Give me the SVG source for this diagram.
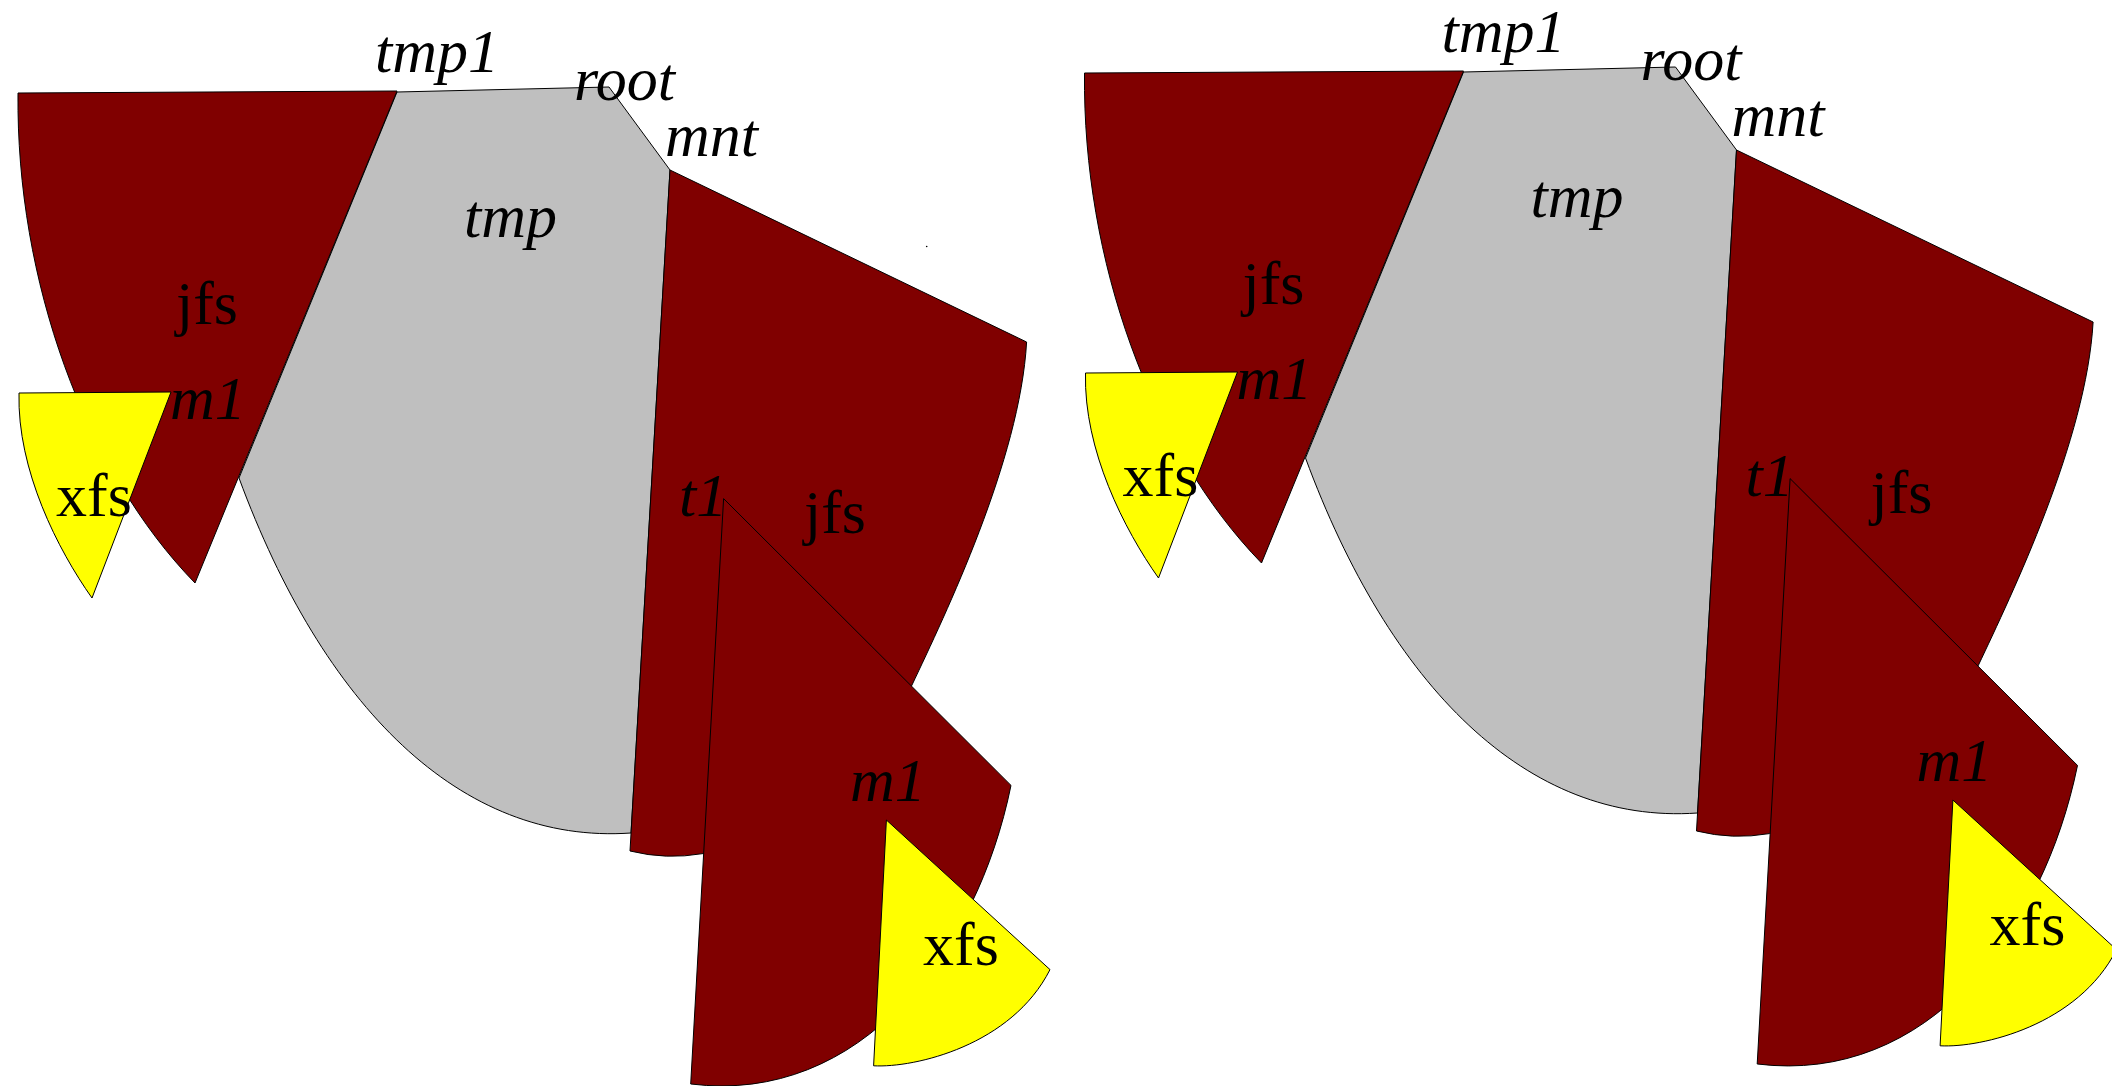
<svg xmlns="http://www.w3.org/2000/svg" width="2112" height="1086" viewBox="0 0 2112 1086">
<style>
.s{stroke:#000;stroke-width:1;stroke-linejoin:miter}
.red{fill:#800000}
.gray{fill:#bfbfbf}
.yel{fill:#ffff00}
.it{font-family:"Liberation Serif","Times New Roman",serif;font-style:italic;font-size:62px;fill:#000}
.up{font-family:"Liberation Serif","Times New Roman",serif;font-size:62px;fill:#000}
</style>
<rect width="2112" height="1086" fill="#fff"/>
<g id="left">
  <g id="L-tmp"><path class="s gray" d="M397,92 L609,87 L670,170 L631,833 C460,845 323,705.5 239,478 L397,92 Z"/><text class="it" x="464" y="237">tmp</text></g>
  <g id="L-tmp1-jfs"><path class="s red" d="M397,91 L18,93 C16,280 85,470 195,583 Z"/><text class="up" x="176" y="324">jfs</text></g>
  <g id="L-m1-xfs"><path class="s yel" d="M171,392 L19,393 C17,470 58,550 92,598 Z"/><text class="up" x="56" y="516">xfs</text></g>
  <g id="L-mnt-jfs"><path class="s red" d="M670,170 L1026.6,342 C1020,460 945,615 912,685 Q830,830 703,853.6 Q666,860 630,851 Z"/><text class="up" x="804" y="533">jfs</text></g>
  <g id="L-t1"><path class="s red" d="M723.6,498.6 L1011,785.4 C977,952 860.7,1105 690.7,1084 Z"/></g>
  <g id="L-t1-m1-xfs"><path class="s yel" d="M886.4,820 L1050,969.6 C1011.75,1045.3 915,1068 873.6,1065.8 Z"/><text class="up" x="923" y="965">xfs</text></g>
  <g id="L-labels">
    <text class="it" x="375" y="72">tmp1</text>
    <text class="it" x="574" y="100">root</text>
    <text class="it" x="665" y="156">mnt</text>
    <text class="it" x="170" y="419">m1</text>
    <text class="it" x="679" y="516">t1</text>
    <text class="it" x="850" y="801">m1</text>
  </g>
  <circle cx="926.7" cy="246.5" r="0.8" fill="#000"/>
</g>
<g id="right" transform="translate(1066.5,-20)">
  <g id="R-tmp"><path class="s gray" d="M397,92 L609,87 L670,170 L631,833 C460,845 323,705.5 239,478 L397,92 Z"/><text class="it" x="464" y="237">tmp</text></g>
  <g id="R-tmp1-jfs"><path class="s red" d="M397,91 L18,93 C16,280 85,470 195,583 Z"/><text class="up" x="176" y="324">jfs</text></g>
  <g id="R-m1-xfs"><path class="s yel" d="M171,392 L19,393 C17,470 58,550 92,598 Z"/><text class="up" x="56" y="516">xfs</text></g>
  <g id="R-mnt-jfs"><path class="s red" d="M670,170 L1026.6,342 C1020,460 945,615 912,685 Q830,830 703,853.6 Q666,860 630,851 Z"/><text class="up" x="804" y="533">jfs</text></g>
  <g id="R-t1"><path class="s red" d="M723.6,498.6 L1011,785.4 C977,952 860.7,1105 690.7,1084 Z"/></g>
  <g id="R-t1-m1-xfs"><path class="s yel" d="M886.4,820 L1050,969.6 C1011.75,1045.3 915,1068 873.6,1065.8 Z"/><text class="up" x="923" y="965">xfs</text></g>
  <g id="R-labels">
    <text class="it" x="375" y="72">tmp1</text>
    <text class="it" x="574" y="100">root</text>
    <text class="it" x="665" y="156">mnt</text>
    <text class="it" x="170" y="419">m1</text>
    <text class="it" x="679" y="516">t1</text>
    <text class="it" x="850" y="801">m1</text>
  </g>
</g>
<g id="connectors"/>
</svg>
